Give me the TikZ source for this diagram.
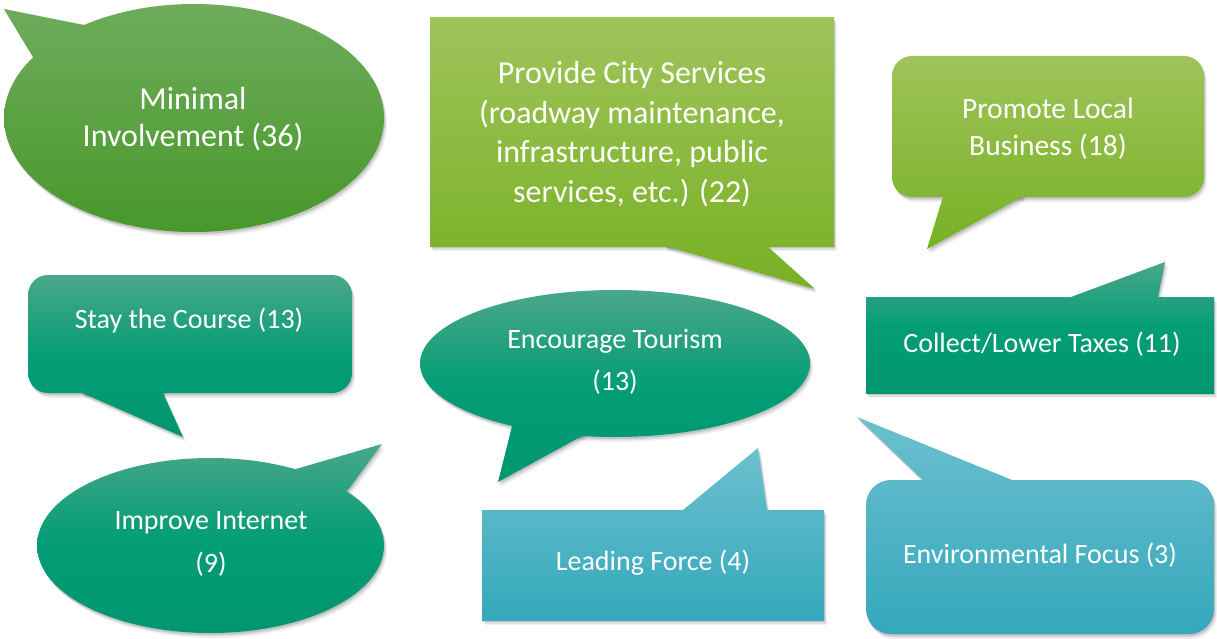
\documentclass[tikz,border=0pt]{standalone}
\usepackage{fontspec}
\setmainfont{Carlito}
\definecolor{cGreenA}{RGB}{110,172,92}
\definecolor{cGreenB}{RGB}{72,152,42}
\definecolor{cLimeA}{RGB}{158,196,90}
\definecolor{cLimeB}{RGB}{120,176,36}
\definecolor{cTealA}{RGB}{74,167,138}
\definecolor{cTealB}{RGB}{4,157,118}
\definecolor{cTealC}{RGB}{0,150,112}
\definecolor{cBlueA}{RGB}{108,192,206}
\definecolor{cBlueB}{RGB}{52,168,188}
\tikzset{
  greenshade/.style={top color=cGreenA, bottom color=cGreenB},
  limeshade/.style={top color=cLimeA, bottom color=cLimeB},
  tealshade/.style={top color=cTealA, bottom color=cTealC, middle color=cTealB},
  blueshade/.style={top color=cBlueA, bottom color=cBlueB},
  btext/.style={text=white, align=center, inner sep=0pt, font=\fontsize{28}{34}\selectfont},
}
% #1 body path, #2 tail path, #3 shading style, #4 shading box
\newcommand\bubble[4]{%
  \foreach \dx/\dy/\op in {1/2/0.12,2/3.5/0.08,3/5/0.05}{%
    \fill[black,opacity=\op,shift={(\dx,\dy)}] #1;
    \fill[black,opacity=\op,shift={(\dx,\dy)}] #2;
  }%
  \begin{scope}\clip #1; \shade[#3] #4; \end{scope}%
  \begin{scope}\clip #2; \shade[#3] #4; \end{scope}%
}
\begin{document}
\begin{tikzpicture}[x=1pt,y=-1pt]
\fill[white] (0,0) rectangle (1217,639);
\useasboundingbox (0,0) rectangle (1217,639);

% Minimal Involvement
\bubble{(194,118) ellipse [x radius=190, y radius=114]}
       {(4,9) -- (84,25) -- (194,118) -- (33,57) -- cycle}
       {greenshade}{(4,4) rectangle (384,232)}
% Provide City Services
\bubble{(430,18) rectangle (834,246)}
       {(665,236) -- (665,246) -- (815,289) -- (767,246) -- (767,236) -- cycle}
       {limeshade}{(430,18) rectangle (834,289)}
% Promote Local Business
\bubble{[rounded corners=20pt] (892,56) rectangle (1204,197)}
       {(943,187) -- (943,197) -- (927,249) -- (1022,197) -- (1022,187) -- cycle}
       {limeshade}{(892,56) rectangle (1204,249)}
% Stay the Course
\bubble{[rounded corners=20pt] (28,275) rectangle (352,393)}
       {(82,383) -- (82,393) -- (183,437) -- (163,393) -- (163,383) -- cycle}
       {tealshade}{(28,275) rectangle (352,437)}
% Encourage Tourism
\bubble{(615,363.5) ellipse [x radius=195, y radius=73.5]}
       {(498,482) -- (512,426) -- (615,363) -- (582,436) -- cycle}
       {tealshade}{(419,290) rectangle (810,482)}
% Collect/Lower Taxes
\bubble{(866,297) rectangle (1214,393)}
       {(1071,307) -- (1071,297) -- (1165,262) -- (1158,297) -- (1158,307) -- cycle}
       {tealshade}{(866,262) rectangle (1214,393)}
% Improve Internet
\bubble{(210.5,545.5) ellipse [x radius=173.5, y radius=87.5]}
       {(382,444) -- (348,490) -- (210,545) -- (296,469) -- cycle}
       {tealshade}{(37,444) rectangle (384,633)}
% Leading Force
\bubble{(482,510) rectangle (824,620)}
       {(683,520) -- (683,510) -- (758,448) -- (767,510) -- (767,520) -- cycle}
       {blueshade}{(482,448) rectangle (824,620)}
% Environmental Focus
\bubble{[rounded corners=25pt] (866,480) rectangle (1214,634)}
       {(923,490) -- (923,480) -- (857,417) -- (1012,480) -- (1012,490) -- cycle}
       {blueshade}{(857,417) rectangle (1214,634)}

\node[btext, font=\fontsize{32}{37}\selectfont] (minimal) at (193,119) {Minimal\\Involvement (36)};
\node[btext, font=\fontsize{32}{39.5}\selectfont] (services) at (632,134) {Provide City Services\\(roadway maintenance,\\infrastructure, public\\services, etc.) (22)};
\node[btext, font=\fontsize{29.5}{37}\selectfont] (business) at (1048,129) {Promote Local\\Business (18)};
\node[btext] (course) at (189,321) {Stay the Course (13)};
\node[btext, font=\fontsize{28}{42}\selectfont] (tourism) at (615,362) {Encourage Tourism\\(13)};
\node[btext] (taxes) at (1042,344) {Collect/Lower Taxes (11)};
\node[btext, font=\fontsize{28}{43}\selectfont] (internet) at (211,544) {Improve Internet\\(9)};
\node[btext] (leading) at (653,563) {Leading Force (4)};
\node[btext] (environment) at (1040,555) {Environmental Focus (3)};
\end{tikzpicture}
\end{document}
